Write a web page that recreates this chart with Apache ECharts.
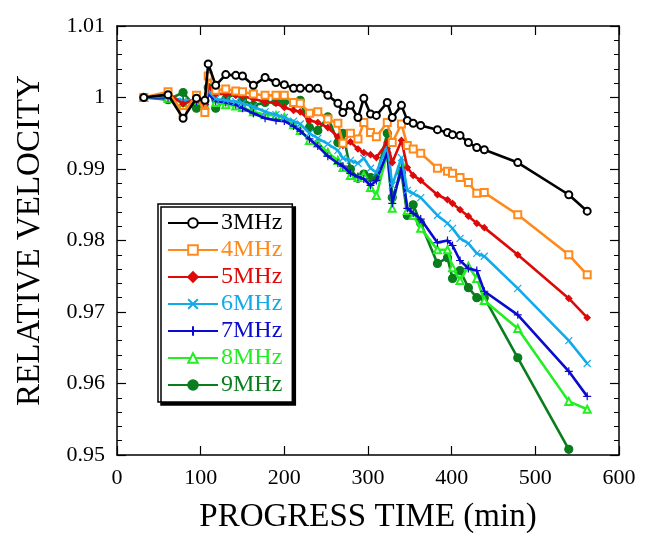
<!DOCTYPE html>
<html>
<head>
<meta charset="utf-8">
<script src="https://cdn.jsdelivr.net/npm/echarts@6/dist/echarts.min.js"></script>
<style>
	html, body { margin: 0; padding: 0; background: #fff; }
	#box { width: 653px; height: 533px; }
</style>
</head>
<body>
<div id="box"></div>
<script>
	// 时间 (min)
	var times = [32, 61, 79, 95, 105, 109, 118, 130, 142, 150, 163, 177, 190, 200, 211, 219, 230, 240, 252, 264, 270,
		279, 288, 295, 303, 310, 323, 329, 340, 347, 354, 363, 383, 395, 401, 410, 420, 430, 439, 479, 540, 562];

	var v3MHz = [1.0, 1.0004, 0.9971, 0.9999, 0.9996, 1.0047, 1.0017, 1.0032, 1.0031, 1.003, 1.0017, 1.0028, 1.0021,
		1.0018, 1.0013, 1.0013, 1.0013, 1.0013, 1.0003, 0.9992, 0.9979, 0.9989, 0.9972, 0.9999, 0.9977, 0.9975, 0.9993,
		0.9972, 0.9989, 0.9968, 0.9964, 0.9961, 0.9955, 0.9951, 0.9948, 0.9947, 0.9937, 0.993, 0.9927, 0.9909, 0.9864, 0.9841];
	var v4MHz = [1.0, 1.0008, 0.9979, 1.0003, 0.9979, 1.003, 1.001, 1.0012, 1.0009, 1.0008, 1.0005, 1.0003, 1.0003,
		1.0003, 0.9993, 0.9992, 0.9978, 0.998, 0.997, 0.9964, 0.9936, 0.995, 0.9942, 0.9965, 0.9951, 0.9945, 0.9965,
		0.9937, 0.9963, 0.9933, 0.9928, 0.9922, 0.9901, 0.9897, 0.9894, 0.9888, 0.9881, 0.9866, 0.9867, 0.9836, 0.978, 0.9752];
	var v5MHz = [1.0, 1.0006, 0.9991, 0.9998, 0.999, 1.0015, 1.0005, 1.0005, 1.0003, 1.0002, 0.9998, 0.9994, 0.9992,
		0.9986, 0.9982, 0.998, 0.9968, 0.9965, 0.9958, 0.9945, 0.9933, 0.9938, 0.9928, 0.9923, 0.992, 0.9916, 0.9937,
		0.9909, 0.994, 0.9902, 0.9891, 0.9884, 0.9864, 0.9857, 0.9852, 0.9843, 0.9834, 0.9824, 0.9818, 0.978, 0.9719, 0.9692];
	var v6MHz = [1.0, 1.0002, 0.9995, 0.9997, 0.9993, 1.001, 0.9998, 0.9996, 0.9994, 0.9992, 0.9987, 0.998, 0.9976,
		0.9972, 0.9967, 0.9963, 0.995, 0.9943, 0.9935, 0.9926, 0.9915, 0.9912, 0.9908, 0.9915, 0.9901, 0.9895, 0.9933,
		0.9877, 0.9916, 0.987, 0.9866, 0.986, 0.9835, 0.9824, 0.9817, 0.9803, 0.9796, 0.9782, 0.9778, 0.9733, 0.966, 0.9628];
	var v7MHz = [1.0, 1.0, 0.9995, 0.9995, 0.999, 1.0005, 0.9995, 0.9993, 0.999, 0.9985, 0.9978, 0.9971, 0.9968,
		0.9967, 0.996, 0.9953, 0.9942, 0.9932, 0.9918, 0.9908, 0.9904, 0.9894, 0.9889, 0.9886, 0.9877, 0.9884, 0.9923,
		0.9852, 0.9902, 0.9845, 0.9838, 0.983, 0.9797, 0.98, 0.9793, 0.9772, 0.9761, 0.9758, 0.9729, 0.9696, 0.9617, 0.9582];
	var v8MHz = [1.0, 0.9999, 0.9993, 0.9996, 0.999, 1.0008, 0.9993, 0.999, 0.9988, 0.9986, 0.998, 0.9976, 0.9975,
		0.9972, 0.9962, 0.9954, 0.994, 0.9936, 0.9923, 0.9912, 0.9902, 0.9891, 0.9888, 0.9891, 0.9874, 0.9863, 0.9922,
		0.9845, 0.9908, 0.9842, 0.9835, 0.9817, 0.9787, 0.9787, 0.9762, 0.9744, 0.9764, 0.9747, 0.9716, 0.9677, 0.9575, 0.9564];
	var v9MHz = [1.0, 0.9997, 1.0007, 0.9985, 0.9995, 1.0014, 0.9985, 0.9998, 1.0006, 0.9997, 0.9989, 0.9993, 0.9994,
		0.9994, 0.9992, 0.9996, 0.9958, 0.9954, 0.9973, 0.9937, 0.995, 0.99, 0.9887, 0.9893, 0.9888, 0.9888, 0.995,
		0.986, 0.9895, 0.9835, 0.985, 0.9824, 0.9768, 0.9776, 0.9747, 0.9758, 0.9734, 0.972, 0.972, 0.9636, 0.9508, null];

	var names = ['3MHz', '4MHz', '5MHz', '6MHz', '7MHz', '8MHz', '9MHz'];
	var colors = ['#000000', '#ff8a1c', '#dd0a0a', '#13aaea', '#0a0ad0', '#22ee22', '#0a7d1e'];
	var values = [v3MHz, v4MHz, v5MHz, v6MHz, v7MHz, v8MHz, v9MHz];

	var xTicks = [0, 100, 200, 300, 400, 500, 600];
	var yTicks = [0.95, 0.96, 0.97, 0.98, 0.99, 1, 1.01];

	// 标记样式
	var symbols = ['emptyCircle', 'emptyRect', 'diamond', 'path://M0,0L10,10M10,0L0,10',
		'path://M5,0L5,10M0,5L10,5', 'emptyTriangle', 'circle'];
	var sizes = [7, 7, 6, 7, 8, 7, 8];

	var FONT = '"Liberation Serif", "DejaVu Serif", serif';

	function pairs(vals) {
		var out = [];
		for (var i = 0; i < times.length; i++) {
			if (vals[i] !== null) out.push([times[i], vals[i]]);
		}
		return out;
	}

	var series = [];
	for (var k = 0; k < names.length; k++) {
		series.push({
			name: names[k],
			type: 'line',
			data: pairs(values[k]),
			symbol: symbols[k],
			symbolSize: sizes[k],
			showAllSymbol: true,
			z: 10 - k,
			lineStyle: { color: colors[k], width: 2.6 },
			itemStyle: { color: colors[k], borderColor: colors[k], borderWidth: 1.2 },
			emphasis: { disabled: true }
		});
	}

	var tickFmtY = function (v) { return String(parseFloat(v.toFixed(2))); };

	var myChart = echarts.init(document.getElementById('box'));
	var option = {
		animation: false,
		backgroundColor: '#ffffff',
		grid: { left: 117, right: 34, top: 26, bottom: 78, outerBoundsMode: 'none' },
		legend: {
			orient: 'vertical',
			left: 158,
			top: 204,
			padding: [7, 10, 5, 9],
			itemWidth: 50,
			itemHeight: 12,
			itemGap: 3,
			backgroundColor: '#ffffff',
			borderColor: '#000',
			borderWidth: 1.5,
			borderRadius: 0,
			shadowColor: '#000',
			shadowOffsetX: 3,
			shadowOffsetY: 3,
			shadowBlur: 0,
			textStyle: { fontFamily: FONT, fontSize: 24, lineHeight: 24, padding: [0, 0, 0, -2] },
			data: names.map(function (n, i) { return { name: n, textStyle: { color: colors[i] } }; })
		},
		xAxis: [{
			type: 'value', min: xTicks[0], max: xTicks[xTicks.length - 1], interval: 100,
			name: 'PROGRESS TIME (min)', nameLocation: 'middle', nameGap: 46,
			nameTextStyle: { fontFamily: FONT, fontSize: 33, color: '#000' },
			axisLine: { onZero: false, lineStyle: { color: '#000', width: 1.5 } },
			axisTick: { inside: true, length: 9, lineStyle: { color: '#000', width: 1.2 } },
			axisLabel: { margin: 12, fontFamily: FONT, fontSize: 22, color: '#000' },
			splitLine: { show: false }
		}, {
			type: 'value', position: 'top', min: xTicks[0], max: xTicks[xTicks.length - 1], interval: 100,
			axisLine: { onZero: false, lineStyle: { color: '#000', width: 1.5 } },
			axisTick: { inside: true, length: 9, lineStyle: { color: '#000', width: 1.2 } },
			axisLabel: { show: false },
			splitLine: { show: false }
		}],
		yAxis: [{
			type: 'value', min: yTicks[0], max: yTicks[yTicks.length - 1], interval: 0.01,
			name: 'RELATIVE VELOCITY', nameLocation: 'middle', nameGap: 70,
			nameTextStyle: { fontFamily: FONT, fontSize: 33, color: '#000' },
			axisLine: { onZero: false, lineStyle: { color: '#000', width: 1.5 } },
			axisTick: { inside: true, length: 9, lineStyle: { color: '#000', width: 1.2 } },
			minorTick: { show: true, splitNumber: 5, length: 5, lineStyle: { color: '#000', width: 1 } },
			axisLabel: { margin: 12, fontFamily: FONT, fontSize: 22, color: '#000', formatter: tickFmtY },
			splitLine: { show: false },
			minorSplitLine: { show: false }
		}, {
			type: 'value', position: 'right', min: yTicks[0], max: yTicks[yTicks.length - 1], interval: 0.01,
			axisLine: { onZero: false, lineStyle: { color: '#000', width: 1.5 } },
			axisTick: { inside: true, length: 9, lineStyle: { color: '#000', width: 1.2 } },
			minorTick: { show: true, splitNumber: 5, length: 5, lineStyle: { color: '#000', width: 1 } },
			axisLabel: { show: false },
			splitLine: { show: false },
			minorSplitLine: { show: false }
		}],
		series: series
	};
	myChart.setOption(option);
</script>
</body>
</html>
